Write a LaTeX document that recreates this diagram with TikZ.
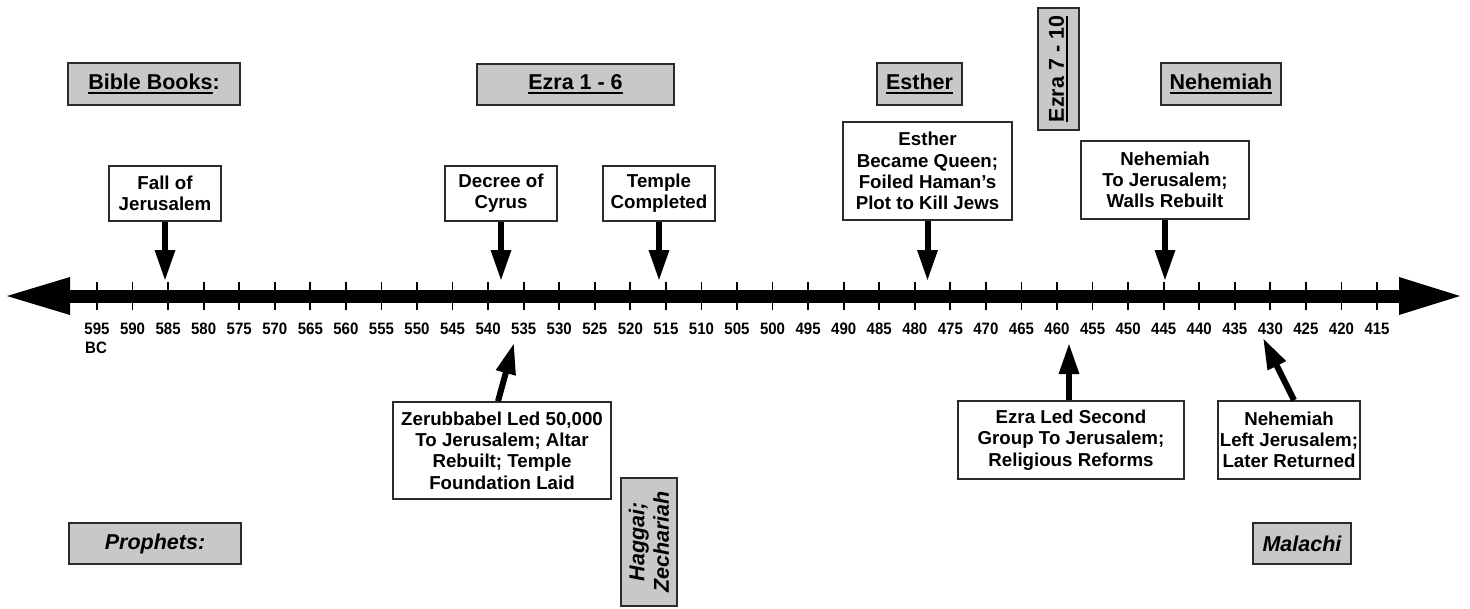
\documentclass[tikz,border=0pt]{standalone}
\usepackage{fontspec}
\setmainfont{Liberation Sans}
\newfontfamily\yrfont[FakeStretch=0.91]{Liberation Sans}
\usetikzlibrary{arrows.meta}
\definecolor{boxgray}{HTML}{C8C8C8}
\definecolor{edgecol}{HTML}{2B2B2B}
\newcommand\myul[1]{\setbox0\hbox{#1}\rlap{\raisebox{-4.5pt}{\rule{\wd0}{2pt}}}\box0}
\begin{document}
\begin{tikzpicture}[x=1pt,y=-1pt,
  hdr/.style={draw=edgecol, line width=2pt, fill=boxgray, inner sep=0pt, align=center,
    font=\fontsize{21.5}{24}\selectfont\bfseries},
  evt/.style={draw=edgecol, line width=1.6pt, fill=white, inner sep=0pt, align=center,
    font=\fontsize{18.7}{21.3}\selectfont\bfseries},
  yr/.style={font=\yrfont\fontsize{16.5}{18}\selectfont\bfseries, inner sep=0pt},
  ptr/.style={line width=6pt, -{Triangle[length=31pt,width=19pt]}},
]
\useasboundingbox[fill=white] (0,0) rectangle (1470,608);

% timeline
\fill (7,296) -- (70,277) -- (70,315) -- cycle;
\fill (70,289.5) rectangle (1399,302.5);
\fill (1460,296) -- (1399,277) -- (1399,315) -- cycle;
\foreach \i in {0,...,36}{
  \draw[line width=1.8pt] ({97+35.556*\i},282) -- ++(0,28);
  \pgfmathtruncatemacro{\yv}{595-5*\i}
  \node[yr] (y\i) at ({97+35.556*\i},329) {\yv};
}
\node[yr, anchor=west] (bc) at (85,348) {BC};

% headers
\node[hdr, minimum width=172pt, minimum height=42pt] (bb) at (154,84) {\myul{Bible Books}:};
\node[hdr, minimum width=197pt, minimum height=41pt] (e16) at (575.5,84.5) {\myul{Ezra 1 - 6}};
\node[hdr, minimum width=85pt, minimum height=42pt] (est) at (919.5,84) {\myul{Esther}};
\node[hdr, rotate=90, minimum width=122pt, minimum height=41pt] (e710) at (1058.5,69) {\myul{Ezra 7 - 10}};
\node[hdr, minimum width=120pt, minimum height=42pt] (neh) at (1221,84) {\myul{Nehemiah}};

\node[hdr, font=\fontsize{21.5}{24}\selectfont\bfseries\itshape, minimum width=172pt, minimum height=41pt] (pro) at (155,543.5) {Prophets:};
\node[hdr, font=\fontsize{21.5}{24}\selectfont\bfseries\itshape, minimum width=98pt, minimum height=41pt] (mal) at (1302,543.5) {Malachi};
\node[hdr, font=\fontsize{21.5}{24.5}\selectfont\bfseries\itshape, rotate=90, minimum width=128pt, minimum height=56pt] (hag) at (649,542) {Haggai;\\Zechariah};

% events above
\node[evt, minimum width=112pt, minimum height=55pt] (fall) at (165,193.5) {Fall of\\Jerusalem};
\node[evt, minimum width=112pt, minimum height=55pt] (dec) at (501,193.5) {Decree of\\Cyrus};
\node[evt, minimum width=112pt, minimum height=55pt] (tem) at (659,193.5) {Temple\\Completed};
\node[evt, minimum width=169pt, minimum height=98pt] (estev) at (927.5,171) {Esther\\Became Queen;\\Foiled Haman’s\\Plot to Kill Jews};
\node[evt, minimum width=168pt, minimum height=78pt] (nehev) at (1165,180) {Nehemiah\\To Jerusalem;\\Walls Rebuilt};

% events below
\node[evt, minimum width=218pt, minimum height=97pt] (zer) at (502,450.5) {Zerubbabel Led 50,000\\To Jerusalem; Altar\\Rebuilt; Temple\\Foundation Laid};
\node[evt, minimum width=226pt, minimum height=78pt] (ezl) at (1071,440) {Ezra Led Second\\Group To Jerusalem;\\Religious Reforms};
\node[evt, minimum width=142pt, minimum height=78pt] (nlf) at (1289,440) {Nehemiah\\Left Jerusalem;\\Later Returned};

% pointers
\coordinate (t1) at (165,281);
\coordinate (t2) at (501,281);
\coordinate (t3) at (659,281);
\coordinate (t4) at (927.5,281);
\coordinate (t5) at (1165,281);
\draw[ptr] (fall.south) -- (t1);
\draw[ptr] (dec.south) -- (t2);
\draw[ptr] (tem.south) -- (t3);
\draw[ptr] (estev.south) -- (t4);
\draw[ptr] (nehev.south) -- (t5);

\coordinate (u1) at (514,343);
\coordinate (u2) at (1069,343);
\coordinate (u3) at (1263,338);
\draw[ptr] ([xshift=-4pt]zer.north) -- (u1);
\draw[ptr] ([xshift=-2pt]ezl.north) -- (u2);
\draw[ptr] ([xshift=5pt]nlf.north) -- (u3);
\end{tikzpicture}
\end{document}
